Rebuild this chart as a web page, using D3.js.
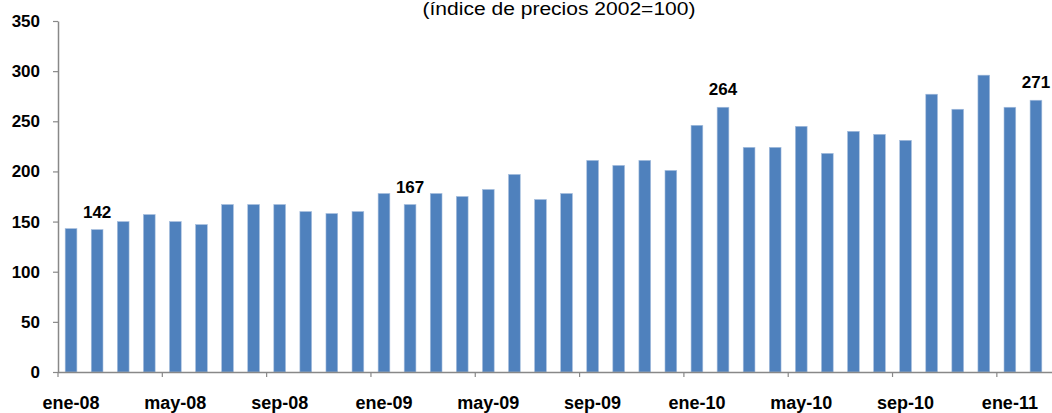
<!DOCTYPE html>
<html>
<head>
<meta charset="utf-8">
<script src="https://cdn.jsdelivr.net/npm/d3@7"></script>
<style>
  html, body { margin: 0; padding: 0; background: #fff; }
  svg { display: block; font-family: "Liberation Sans", Arial, sans-serif; }
</style>
</head>
<body>
<svg id="chart" width="1052" height="413"></svg>
<script>
// Monthly price index, January 2008 – February 2011
const months = [
  "ene-08","feb-08","mar-08","abr-08","may-08","jun-08","jul-08","ago-08","sep-08","oct-08","nov-08","dic-08",
  "ene-09","feb-09","mar-09","abr-09","may-09","jun-09","jul-09","ago-09","sep-09","oct-09","nov-09","dic-09",
  "ene-10","feb-10","mar-10","abr-10","may-10","jun-10","jul-10","ago-10","sep-10","oct-10","nov-10","dic-10",
  "ene-11","feb-11"
];
const values = [
  143, 142, 150, 157, 150, 147, 167, 167, 167, 160, 158, 160,
  178, 167, 178, 175, 182, 197, 172, 178, 211, 206, 211, 201,
  246, 264, 224, 224, 245, 218, 240, 237, 231, 277, 262, 296,
  264, 271
];
// Months whose value is written above the bar
const labelledMonths = ["feb-08", "feb-09", "feb-10", "feb-11"];
// Month labels shown on the horizontal axis
const axisMonths = ["ene-08","may-08","sep-08","ene-09","may-09","sep-09","ene-10","may-10","sep-10","ene-11"];
const yTicks = [0, 50, 100, 150, 200, 250, 300, 350];
const title = "(índice de precios 2002=100)";

const data = months.map((m, i) => ({ month: m, value: values[i] }));

const svg = d3.select("#chart");
const plotLeft = 58, plotRight = 1049, plotTop = 21, plotBottom = 372;

const x = d3.scaleBand()
  .domain(months)
  .range([plotLeft, plotRight])
  .paddingInner(0.55)
  .paddingOuter(0.275);

const y = d3.scaleLinear()
  .domain([0, 350])
  .range([plotBottom, plotTop]);

const axisColor = "#888888";

// Title
svg.append("text")
  .attr("x", 559)
  .attr("y", 15)
  .attr("text-anchor", "middle")
  .attr("font-size", 18)
  .attr("textLength", 273)
  .attr("lengthAdjust", "spacingAndGlyphs")
  .attr("fill", "#000")
  .text(title);

// Bars
svg.append("g")
  .selectAll("rect")
  .data(data)
  .join("rect")
  .attr("x", d => x(d.month))
  .attr("y", d => y(d.value))
  .attr("width", x.bandwidth())
  .attr("height", d => y(0) - y(d.value))
  .attr("fill", "#4f81bd")
  .attr("stroke", "#a7bfde")
  .attr("stroke-width", 0.6);

// Value labels
svg.append("g")
  .selectAll("text")
  .data(data.filter(d => labelledMonths.includes(d.month)))
  .join("text")
  .attr("x", d => x(d.month) + x.bandwidth() / 2)
  .attr("y", d => y(d.value) - 12)
  .attr("text-anchor", "middle")
  .attr("font-size", 17)
  .attr("font-weight", "bold")
  .attr("fill", "#000")
  .text(d => d.value);

// Y axis
const yAxis = svg.append("g")
  .attr("transform", `translate(${plotLeft},0)`)
  .call(d3.axisLeft(y).tickValues(yTicks).tickSize(5).tickSizeOuter(0).tickPadding(13));
yAxis.select(".domain").attr("stroke", axisColor).attr("stroke-width", 1.5);
yAxis.selectAll(".tick line").attr("stroke", axisColor).attr("stroke-width", 1.2);
yAxis.selectAll(".tick text")
  .attr("font-family", "Liberation Sans, Arial, sans-serif")
  .attr("font-size", 17)
  .attr("font-weight", "bold")
  .attr("fill", "#000");

// X axis: labels centred under bars, ticks on category boundaries
const step = x.step();
const xAxis = svg.append("g")
  .attr("transform", `translate(0,${plotBottom})`)
  .call(d3.axisBottom(x).tickValues(axisMonths).tickSize(5).tickSizeOuter(0).tickPadding(19));
xAxis.select(".domain").attr("stroke", axisColor).attr("stroke-width", 1.5)
  .attr("d", `M${plotLeft},0.5H${1052}`);
xAxis.selectAll(".tick line")
  .attr("stroke", axisColor).attr("stroke-width", 1.2)
  .attr("x1", -step / 2).attr("x2", -step / 2);
xAxis.selectAll(".tick text")
  .attr("font-family", "Liberation Sans, Arial, sans-serif")
  .attr("font-size", 18)
  .attr("font-weight", "bold")
  .attr("fill", "#000");
</script>
</body>
</html>
